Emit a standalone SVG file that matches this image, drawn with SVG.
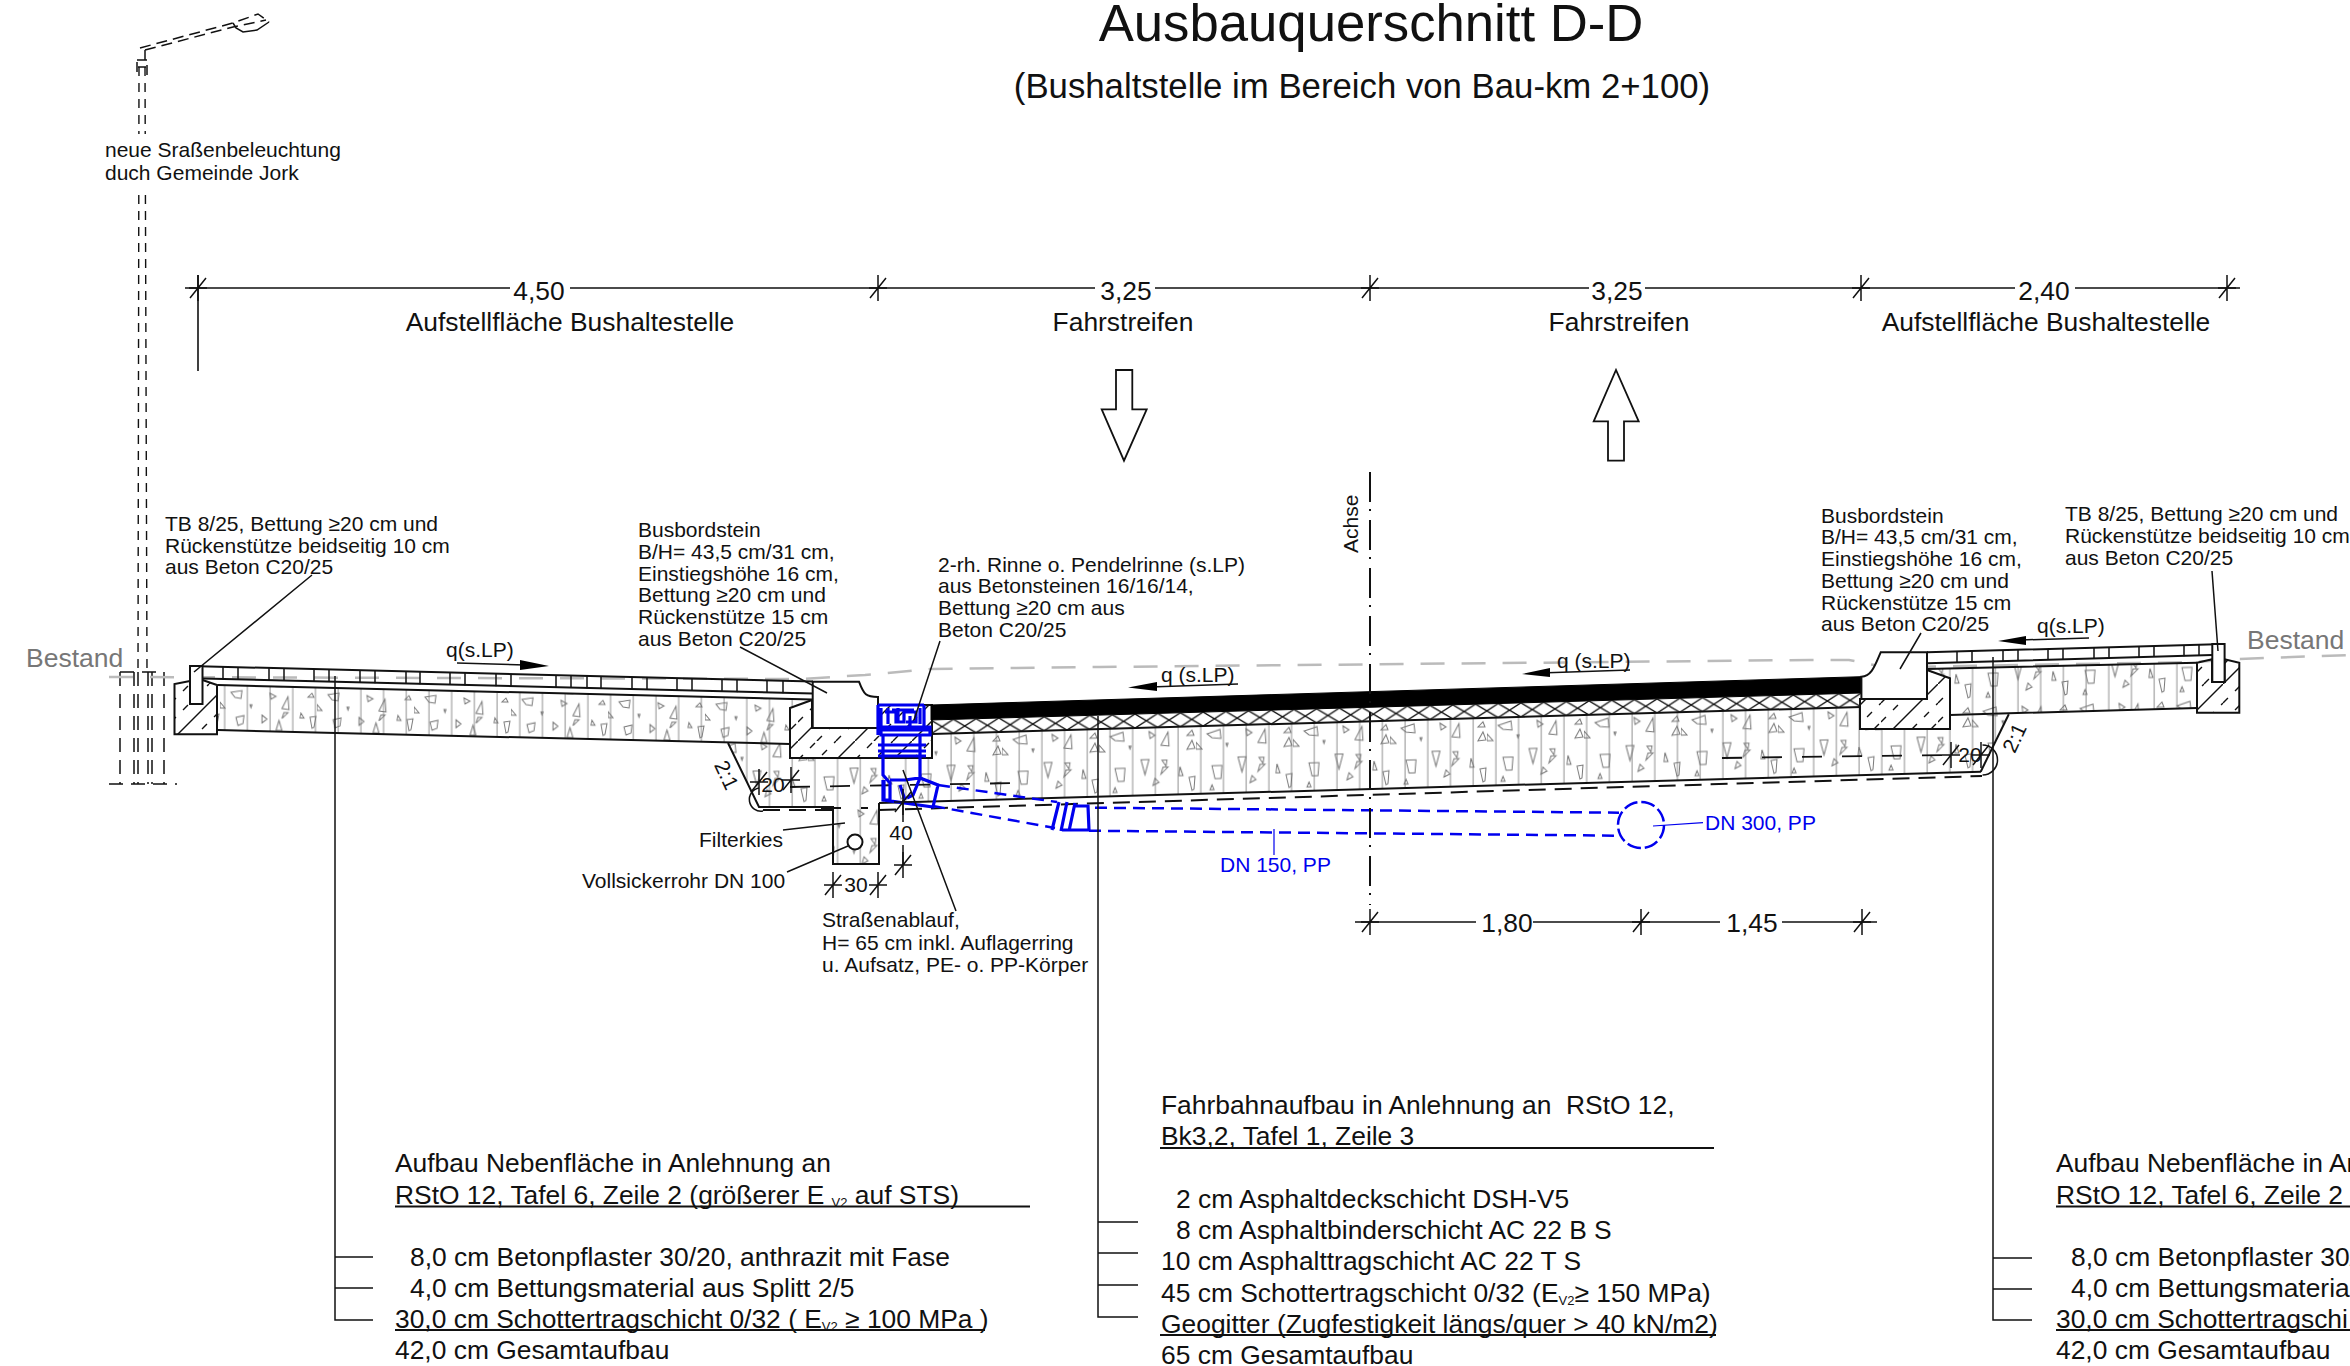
<svg xmlns="http://www.w3.org/2000/svg" width="2350" height="1366" viewBox="0 0 2350 1366">
<style>
text{font-family:"Liberation Sans",Arial,sans-serif;fill:#111}
.t21{font-size:21px}.t27{font-size:26.4px}.blue{fill:#0000ee}
.l{fill:none;stroke:#111;stroke-width:2}
.j{fill:none;stroke:#111;stroke-width:1.5}
.th{fill:none;stroke:#111;stroke-width:1.5}
.dim{fill:none;stroke:#111;stroke-width:1.6}
.d{fill:none;stroke:#111;stroke-width:2;stroke-dasharray:17 9}
.dr{fill:none;stroke:#111;stroke-width:1.8;stroke-dasharray:20 20}
.pole{fill:none;stroke:#111;stroke-width:1.4;stroke-dasharray:9 7}
.pf{fill:none;stroke:#111;stroke-width:1.5;stroke-dasharray:14 8}
.arm{fill:none;stroke:#111;stroke-width:1.5;stroke-dasharray:11 6}
.b{fill:none;stroke:#0000ee;stroke-width:3.2}
.bd{fill:none;stroke:#0000ee;stroke-width:2.5;stroke-dasharray:12 7}
.bc{fill:none;stroke:#0000ee;stroke-width:2.5;stroke-dasharray:14 4}
.bl{fill:none;stroke:#0000ee;stroke-width:1.2}
.g{fill:none;stroke:#bbb;stroke-width:2.5;stroke-dasharray:24 17}
.s{font-size:13px}
</style>
<defs>
<pattern id="vl" patternUnits="userSpaceOnUse" x="1099" y="0" width="22.7" height="50"><path d="M11 0V50" stroke="#aaa" stroke-width="1.3"/></pattern>
<pattern id="st" patternUnits="userSpaceOnUse" x="1099" y="761.9" width="97" height="70" patternTransform="matrix(1 -0.029 0 1 0 0)">
<path fill="none" stroke="#777" stroke-width="1" d="M11 7L24 3L25 12L16 11ZM0 15L6 22L0 22ZM30 17L32 17L31 20ZM50 3L56 7L51 10ZM62 17L69 4L70 18ZM88 8L95 8L93 3ZM96 21L88 22L93 13ZM42 31L50 31L46 46ZM16 39L26 39L25 52L19 52ZM14 63L18 63L16 58ZM62 46L69 39L64 39ZM54 57L60 54L56 50ZM80 48L84 48L81 39ZM90 50L96 49L95 62L93 63ZM63 32L68 32L67 38Z"/></pattern>
<pattern id="st2" patternUnits="userSpaceOnUse" x="220" y="689" width="97" height="44" patternTransform="matrix(1 0.0246 0 1 0 -5.4)">
<path fill="none" stroke="#777" stroke-width="1" d="M11 3L22 1L21 9L15 8ZM0 13L5 19L0 19ZM30 15L32 15L31 18ZM50 3L56 6L51 9ZM62 18L68 6L69 19ZM88 6L94 6L92 2ZM42 25L47 29L42 33ZM16 28L24 26L23 34L18 36ZM62 28L68 22L64 22ZM80 27L84 27L81 22ZM90 26L96 25L94 36L92 37ZM56 40L62 40L59 30Z"/></pattern>
<pattern id="xx" patternUnits="userSpaceOnUse" width="22.7" height="14" patternTransform="matrix(1 -0.029 0 1 0 747)"><path d="M0 0L22.7 14M22.7 0L0 14" stroke="#111" stroke-width="1.4"/></pattern>
<pattern id="ha" patternUnits="userSpaceOnUse" x="0" y="0" width="57" height="57"><path d="M0 57L57 0" stroke="#111" stroke-width="1.4"/><path d="M0 19L19 0M19 57L57 19M0 38L38 0M38 57L57 38" stroke="#111" stroke-width="1.4" stroke-dasharray="7 10"/></pattern>
<path id="tk" d="M-9 0H9M0 -13V13M-8 10L8 -10" class="th"/>
</defs>
<rect width="2350" height="1366" fill="#fff"/>

<g id="title">
<text x="1371" y="41" text-anchor="middle" style="font-size:52.7px">Ausbauquerschnitt D-D</text>
<text x="1362" y="98" text-anchor="middle" style="font-size:34.75px">(Bushaltstelle im Bereich von Bau-km 2+100)</text>
</g>

<g id="lamp">
<path class="pole" d="M139 67L138 672M145 67L147 672"/>
<rect x="100" y="134" width="246" height="60" fill="#fff"/>
<path class="arm" d="M140 48L233 23L258 14L269 22M145 50L233 27L266 20M145 50V60M137 60H147M137 62V72M147 65V75M138 67H146"/>
<path class="th" d="M233 23L236 28L243 32L257 30L269 22"/>
<path class="pf" d="M120 672V784M134 672V784M138 672V784M148 672V784M152 672V784M164 672V784M120 672H164M109 784H177"/>
<text class="t21" x="105" y="157">neue Sraßenbeleuchtung</text>
<text class="t21" x="105" y="180">duch Gemeinde Jork</text>
</g>

<g id="ground"><path class="g" d="M109 677L800 679L865 675L930 669L1100 667L1810 660L1849 660L1874 665L1905 667L2196 662L2238 659L2350 655"/>
<text x="26" y="667" style="font-size:26.5px;fill:#777">Bestand</text>
<text x="2247" y="649" style="font-size:26.5px;fill:#777">Bestand</text></g>

<g id="layers-fill">
<path fill="url(#vl)" d="M217 685L812 699.5L790 708V744L218 730Z"/>
<path fill="url(#st2)" d="M217 685L812 699.5L790 708V744L218 730Z"/>
<path fill="url(#vl)" d="M728 743L790 744V758H932V734L1861 707L1860 729H1950V715L2008.8 714L1981 772L879 803V864H833V806L759 807Z"/>
<path fill="url(#st)" d="M728 743L790 744V758H932V734L1861 707L1860 729H1950V715L2008.8 714L1981 772L879 803V864H833V806L759 807Z"/>
<path fill="url(#vl)" d="M1927 669L2197 662.7V708L1950 715V678.3Z"/>
<path fill="url(#st)" d="M1927 669L2197 662.7V708L1950 715V678.3Z"/>
</g>

<g id="left-paving">
<path class="l" d="M190 666L813 681.5M203 678.5L813 693.5M218 685L812 699.5M218 730L790 744"/>
<path class="j" transform="matrix(1 .0246 0 1 0 0)" d="M223 661.3v12.7M238 661.3v12.7M269 661.3v12.7M284 661.3v12.7M314 661.3v12.7M329 661.3v12.7M360 661.3v12.7M375 661.3v12.7M406 661.3v12.7M420 661.3v12.7M450 661.3v12.7M465 661.3v12.7M496 661.3v12.7M511 661.3v12.7M556 661.3v12.7M571 661.3v12.7M587 661.3v12.7M601 661.3v12.7M632 661.3v12.7M647 661.3v12.7M677 661.3v12.7M692 661.3v12.7M722 661.3v12.7M737 661.3v12.7M767 661.3v12.7M783 661.3v12.7"/>
</g>

<g id="left-curb">
<path fill="url(#ha)" d="M174.5 684L190 681V704H202.5V680L217 685V734H174.5Z"/>
<path class="l" d="M190 681L174.5 684V734.3H217V685L202.5 680"/>
<rect x="190" y="666" width="12.5" height="38" fill="#fff" stroke="#111" stroke-width="2"/>
</g>

<g id="bus-curb-left">
<path fill="url(#ha)" stroke="#111" stroke-width="2" d="M790 708L812 700V728H878V705H932V758H790Z"/>
<path fill="#fff" stroke="#111" stroke-width="2" d="M812.7 681.7H859C864 695 866 697 878 697V728H812.7Z"/>
</g>

<g id="road">
<path fill="#000" stroke="#000" d="M931 705L1861 676.7V693L931 720Z"/>
<path fill="url(#xx)" d="M932 720L1861 693V707L932 734Z"/>
<path class="l" d="M932 734L1861 707"/>
<path class="l" d="M879 803L1981 771.7"/>
<path class="d" d="M879 810L1982 776M763 810H833"/>
<path class="dr" d="M790 787L1017 783M1722 758L1950 755M821 808H868"/>
<path class="l" d="M728 743L759 807H833V864H879V803"/>
<path class="th" d="M759 788A11 11 0 0 0 763 811"/>
<circle cx="855" cy="842" r="7.5" fill="#fff" stroke="#111" stroke-width="2"/>
</g>

<g id="bus-curb-right">
<path fill="url(#ha)" stroke="#111" stroke-width="2" d="M1860 699V729H1950V678.3L1927 670V699Z"/>
<path fill="#fff" stroke="#111" stroke-width="2" d="M1880.7 652.3H1927V699H1861.4V676.7C1872 676 1875 665 1880.7 652.3Z"/>
</g>

<g id="right-paving">
<path class="l" d="M1927 652.3L2225 644M1927 663.3L2212 655M1927 669L2197 662.7M1950 715L2197 708"/>
<path class="j" transform="matrix(1 -.028 0 1 0 0)" d="M1957 706.3v11M1972 706.3v11M2003 706.3v11M2018 706.3v11M2048 706.3v11M2063 706.3v11M2094 706.3v11M2109 706.3v11M2139 706.3v11M2154 706.3v11M2184 706.3v11M2199 706.3v11"/>
<path class="l" d="M2008.8 714.3L1980.7 771.7"/>
<path class="th" d="M1982.5 745A15 15 0 0 1 1982.5 775"/>
</g>

<g id="right-curb">
<path fill="url(#ha)" stroke="#111" stroke-width="2" d="M2197 662.7L2212 659.3V682H2224.6V659.3L2239.3 662.7V712.7H2197Z"/>
<rect x="2212.3" y="644" width="12.3" height="38" fill="#fff" stroke="#111" stroke-width="2"/>
</g>

<g id="drain">
<path class="b" d="M878 705H924M878 705V735M924 705V727M881 727H930V735H881ZM882 730H930M881 708V727M885 712H896V722H904V712H916V722H906M888 708V724M898 708V722M910 716V726M920 708V724M892 710H914M878 745H926M878 751H926M878 756H926M883 735V775L890 783V800L883 800V780M920 735V778L913 795L907 798M890 780H905L920 778L938 785L933 807L884 800V780M900 785L905 800"/>
<path class="bd" d="M938 785L1057 802M933 806L1055 828M1095 807.7L1619 812.7M1089 830.7L1619 835.7"/>
<path class="b" d="M1059 802L1052 830M1067 802L1061 831M1075 803L1069 831M1075 806H1088L1089 830H1062"/>
<circle class="bc" cx="1641" cy="825" r="23"/>
</g>

<g id="axis">
<path fill="none" stroke="#111" stroke-width="2" stroke-dasharray="30 7 2 9" d="M1370 472V905"/>
<text class="t21" transform="translate(1358 553) rotate(-90)">Achse</text>
</g>

<g id="traffic-arrows">
<path fill="#fff" stroke="#111" stroke-width="1.8" d="M1116 370H1132.3V409.3H1146.7L1124 460.7L1101.7 409.3H1116Z"/>
<path fill="#fff" stroke="#111" stroke-width="1.8" d="M1608 460.7H1624V421.4H1638.7L1616 370L1593.7 421.4H1608Z"/>
</g>

<g id="slopes">
<text class="t21" x="446" y="657">q(s.LP)</text><path class="th" d="M457 663L525 665"/><path fill="#000" d="M520 660L549 666L520 670Z"/>
<text class="t21" x="1161" y="682">q (s.LP)</text><path class="th" d="M1150 687L1238 684"/><path fill="#000" d="M1128 687.5L1157 682V691Z"/>
<text class="t21" x="1557" y="668">q (s.LP)</text><path class="th" d="M1540 673L1630 670"/><path fill="#000" d="M1522 674L1550 668V677Z"/>
<text class="t21" x="2037" y="633">q(s.LP)</text><path class="th" d="M2020 640L2089 638"/><path fill="#000" d="M1998 641L2026 636V645Z"/>
</g>

<g id="dim-top">
<path class="dim" d="M185 288H510M570 288H1095M1155 288H1589M1645 288H2015M2075 288H2240M198 275V371"/>
<use href="#tk" x="198" y="288"/><use href="#tk" x="878" y="288"/><use href="#tk" x="1370" y="288"/><use href="#tk" x="1861" y="288"/><use href="#tk" x="2227" y="288"/>
<g class="t27" text-anchor="middle"><text x="539" y="300">4,50</text><text x="1126" y="300">3,25</text><text x="1617" y="300">3,25</text><text x="2044" y="300">2,40</text>
<text x="570" y="331">Aufstellfläche Bushaltestelle</text><text x="1123" y="331">Fahrstreifen</text><text x="1619" y="331">Fahrstreifen</text><text x="2046" y="331">Aufstellfläche Bushaltestelle</text></g>
</g>

<g id="dim-bottom">
<path class="dim" d="M1355 922H1476M1533 922H1720M1782 922H1877"/>
<use href="#tk" x="1370" y="922"/><use href="#tk" x="1641" y="922"/><use href="#tk" x="1862" y="922"/>
<g class="t27" text-anchor="middle"><text x="1507" y="932">1,80</text><text x="1752" y="932">1,45</text></g>
</g>

<g id="dim-small">
<path class="th" d="M903 800V822M903 845V865"/>
<use href="#tk" x="903" y="802"/><use href="#tk" x="903" y="865"/><use href="#tk" x="833" y="885"/><use href="#tk" x="878" y="885"/><use href="#tk" x="759" y="782"/><use href="#tk" x="791" y="780"/><use href="#tk" x="1951" y="755"/><use href="#tk" x="1981" y="755"/>
<g class="t21" text-anchor="middle"><text x="901" y="840">40</text><text x="856" y="892">30</text><text x="773" y="792">20</text><text x="1970" y="762">20</text></g>
<text class="t21" text-anchor="middle" transform="translate(720 778) rotate(65)">2:1</text>
<text class="t21" text-anchor="middle" transform="translate(2021 741) rotate(-65)">2:1</text>
</g>

<g id="connectors">
<path class="th" d="M194 672L312 575M740 647L827 693M940 641L914 720M956 911L903 770M783 830L845 823M787 872L848 846M1921 633L1900 669M2212 571L2218 651"/>
<path class="bl" d="M1653 826L1703 822.7M1274 829V855"/>
<path class="th" d="M335 676V1320H373M335 1257H373M335 1288H373M1098 716V1317H1138M1098 1222H1138M1098 1253H1138M1098 1285H1138M1993 657V1320H2032M1993 1258H2032M1993 1289H2032"/>
</g>

<g id="labels" class="t21">
<g id="label-tb-left"><text x="165" y="531">TB 8/25, Bettung ≥20 cm und</text><text x="165" y="553">Rückenstütze beidseitig 10 cm</text><text x="165" y="574">aus Beton C20/25</text></g>
<g id="label-bus-left"><text x="638" y="537">Busbordstein</text><text x="638" y="559">B/H= 43,5 cm/31 cm,</text><text x="638" y="581">Einstiegshöhe 16 cm,</text><text x="638" y="602">Bettung ≥20 cm und</text><text x="638" y="624">Rückenstütze 15 cm</text><text x="638" y="646">aus Beton C20/25</text></g>
<g id="label-rinne"><text x="938" y="572">2-rh. Rinne o. Pendelrinne (s.LP)</text><text x="938" y="593">aus Betonsteinen 16/16/14,</text><text x="938" y="615">Bettung ≥20 cm aus</text><text x="938" y="637">Beton C20/25</text></g>
<g id="label-bus-right"><text x="1821" y="523">Busbordstein</text><text x="1821" y="544">B/H= 43,5 cm/31 cm,</text><text x="1821" y="566">Einstiegshöhe 16 cm,</text><text x="1821" y="588">Bettung ≥20 cm und</text><text x="1821" y="610">Rückenstütze 15 cm</text><text x="1821" y="631">aus Beton C20/25</text></g>
<g id="label-tb-right"><text x="2065" y="521">TB 8/25, Bettung ≥20 cm und</text><text x="2065" y="543">Rückenstütze beidseitig 10 cm</text><text x="2065" y="565">aus Beton C20/25</text></g>
<text x="699" y="847">Filterkies</text><text x="582" y="888">Vollsickerrohr DN 100</text>
<g id="label-ablauf"><text x="822" y="927">Straßenablauf,</text><text x="822" y="950">H= 65 cm inkl. Auflagerring</text><text x="822" y="972">u. Aufsatz, PE- o. PP-Körper</text></g>
<text class="blue" x="1705" y="830">DN 300, PP</text><text class="blue" x="1220" y="872">DN 150, PP</text>
</g>

<g id="build-left" class="t27">
<text x="395" y="1172">Aufbau Nebenfläche in Anlehnung an</text>
<text x="395" y="1204">RStO 12, Tafel 6, Zeile 2 (größerer E <tspan class="s" dy="3">V2</tspan><tspan dy="-3"> auf STS)</tspan></text>
<text x="410" y="1266">8,0 cm Betonpflaster 30/20, anthrazit mit Fase</text>
<text x="410" y="1297">4,0 cm Bettungsmaterial aus Splitt 2/5</text>
<text x="395" y="1328">30,0 cm Schottertragschicht 0/32 ( E<tspan class="s" dy="3">V2</tspan><tspan dy="-3"> ≥ 100 MPa )</tspan></text>
<text x="395" y="1359">42,0 cm Gesamtaufbau</text>
<path class="l" d="M395 1206.5H1030M395 1330H985"/>
</g>
<g id="build-road" class="t27">
<text x="1161" y="1114">Fahrbahnaufbau in Anlehnung an &#160;RStO 12,</text>
<text x="1161" y="1145">Bk3,2, Tafel 1, Zeile 3</text>
<text x="1176" y="1208">2 cm Asphaltdeckschicht DSH-V5</text>
<text x="1176" y="1239">8 cm Asphaltbinderschicht AC 22 B S</text>
<text x="1161" y="1270">10 cm Asphalttragschicht AC 22 T S</text>
<text x="1161" y="1302">45 cm Schottertragschicht 0/32 (E<tspan class="s" dy="3">V2</tspan><tspan dy="-3">≥ 150 MPa)</tspan></text>
<text x="1161" y="1333">Geogitter (Zugfestigkeit längs/quer &gt; 40 kN/m2)</text>
<text x="1161" y="1364">65 cm Gesamtaufbau</text>
<path class="l" d="M1160 1148H1714M1160 1335H1716"/>
</g>
<g id="build-right" class="t27">
<text x="2056" y="1172">Aufbau Nebenfläche in An</text>
<text x="2056" y="1204">RStO 12, Tafel 6, Zeile 2</text>
<text x="2071" y="1266">8,0 cm Betonpflaster 30/</text>
<text x="2071" y="1297">4,0 cm Bettungsmateria</text>
<text x="2056" y="1328">30,0 cm Schottertragschi</text>
<text x="2056" y="1359">42,0 cm Gesamtaufbau</text>
<path class="l" d="M2056 1206.5H2350M2056 1330H2350"/>
</g>
</svg>
